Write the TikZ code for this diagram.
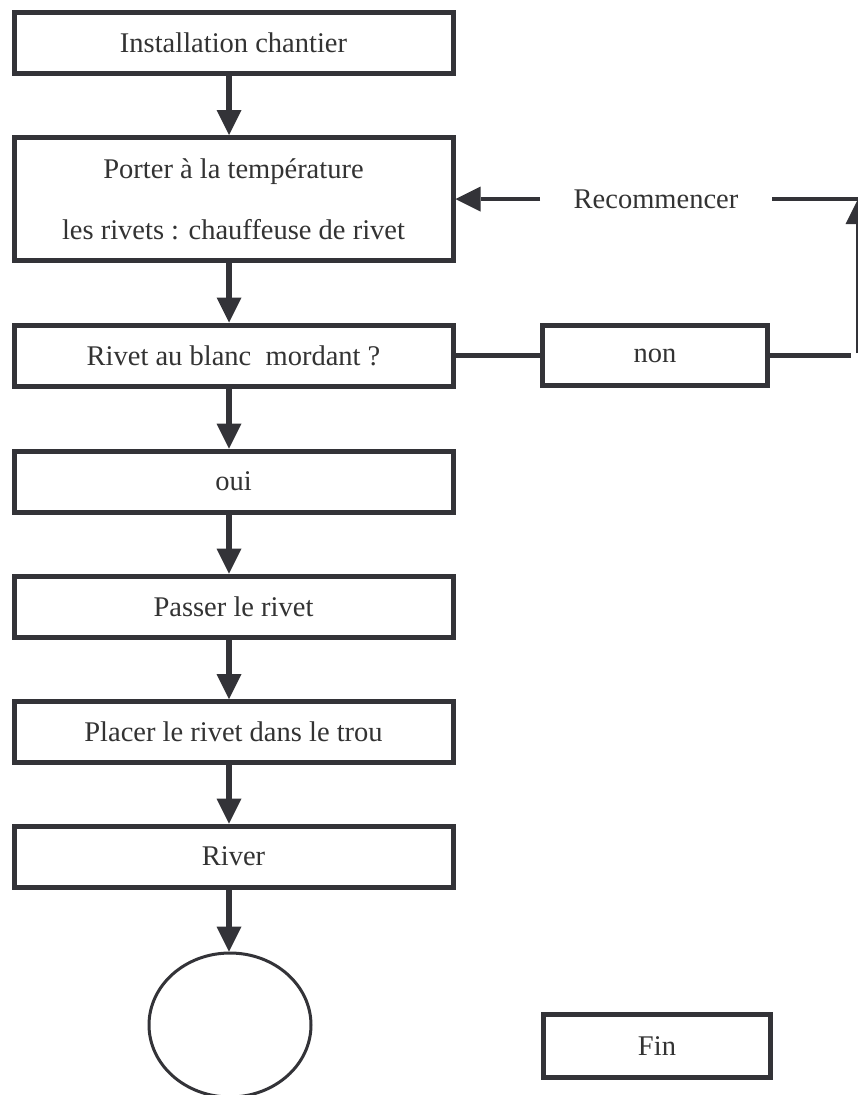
\documentclass[tikz,border=0pt]{standalone}
\usepackage{fontspec}
\setmainfont{Liberation Serif}
\usetikzlibrary{arrows.meta,shapes.geometric}
\definecolor{ink}{RGB}{51,51,56}
\definecolor{txt}{RGB}{51,51,51}
\begin{document}
\begin{tikzpicture}[x=1pt,y=-1pt,
  stepbox/.style={draw=ink,line width=5pt,minimum width=439pt,minimum height=61pt,
    inner sep=0pt,text=txt,font=\fontsize{28.5}{34}\selectfont},
  flow/.style={draw=ink,line width=6pt,-{Triangle[width=25pt,length=25pt,line width=0pt]}},
  backflow/.style={flow,line width=4.5pt},
  link/.style={draw=ink,line width=4.5pt},
  label/.style={text=txt,font=\fontsize{28.5}{34}\selectfont,inner xsep=33.5pt,inner ysep=0pt}]
\useasboundingbox[fill=white] (0,0) rectangle (858,1095);

% main column of steps
\node[stepbox] (install) at (233.5,43) {Installation chantier};
\node[stepbox,minimum height=123pt,align=center,font=\fontsize{28.5}{61}\selectfont] (heat) at (233.5,199)
  {Porter à la température\\les rivets : chauffeuse de rivet};
\node[stepbox] (check) at (233.5,355.5) {Rivet au blanc\ \ mordant ?};
\node[stepbox] (yes) at (233.5,481.5) {oui};
\node[stepbox] (pass) at (233.5,606.5) {Passer le rivet};
\node[stepbox] (place) at (233.5,732) {Placer le rivet dans le trou};
\node[stepbox] (rivet) at (233.5,856.5) {River};
\node[draw=ink,line width=3pt,ellipse,minimum width=162pt,minimum height=144pt,inner sep=0pt] (stop) at (230,1025) {};

% side boxes
\node[stepbox,minimum width=225pt,minimum height=60pt] (no) at (655,355.5) {non};
\node[stepbox,minimum width=227pt,minimum height=63pt] (fin) at (657,1046) {Fin};
\node[label] (again) at (656,199) {Recommencer};

% vertical flow arrows
\coordinate (ax) at (229,0);
\draw[flow] (install.south -| ax) -- (heat.north -| ax);
\draw[flow] (heat.south -| ax) -- (check.north -| ax);
\draw[flow] (check.south -| ax) -- (yes.north -| ax);
\draw[flow] (yes.south -| ax) -- (pass.north -| ax);
\draw[flow] (pass.south -| ax) -- (place.north -| ax);
\draw[flow] (place.south -| ax) -- (rivet.north -| ax);
\draw[flow] (rivet.south -| ax) -- (stop.north -| ax);

% loop back for a rivet that is not hot enough
\coordinate (rb) at (851,355.5);
\coordinate (rbot) at (858,353);
\coordinate (rtop) at (858,199);
\draw[link] (check.east) -- (no.west);
\draw[link] (no.east) -- (rb);
\draw[backflow] (rbot) -- (rtop);
\draw[link] (again.east) -- (rtop);
\draw[backflow] (again.west) -- (heat.east);
\end{tikzpicture}
\end{document}
